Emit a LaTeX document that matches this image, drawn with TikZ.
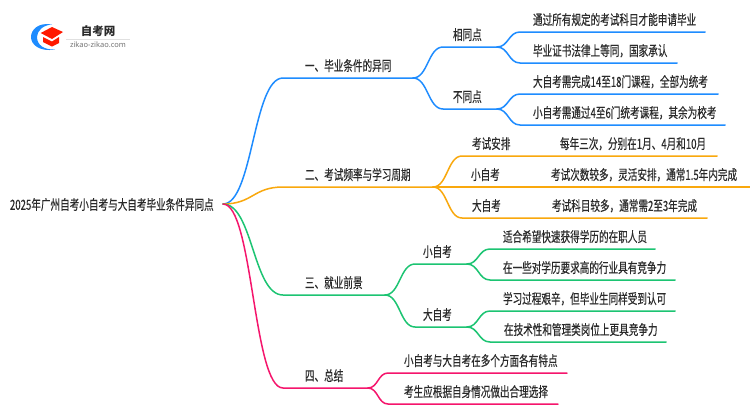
\documentclass[tikz,border=0pt]{standalone}
\usepackage{fontspec}
\setmainfont{Noto Sans}
\newfontfamily\cjk[FakeBold=0.35]{Noto Sans CJK SC}
\newfontfamily\cjkbold{Noto Sans CJK SC}
\definecolor{cblue}{HTML}{1E8CFF}
\definecolor{corange}{HTML}{F9A80D}
\definecolor{cgreen}{HTML}{1CC472}
\definecolor{cpink}{HTML}{F5156C}
\definecolor{ctext}{HTML}{2A2A2A}
\tikzset{
  lab/.style={anchor=south west,inner xsep=0pt,inner ysep=3.1pt,outer sep=0pt,align=left,
    yscale=1.45,transform shape,
    text=ctext,font=\cjk\fontsize{9.6}{11}\selectfont,text height=7pt,text depth=1.8pt},
  wire/.style={line width=1.5pt,line cap=round},
}
% S-shaped link with horizontal tangents, then the underline of the target node
\newcommand{\lnk}[3]{%
  \draw[wire,#1] (#2) .. controls ($(#2)!0.5!(#2 -| #3.south west)$) and ($(#3.south west)!0.5!(#3.south west -| #2)$) .. (#3.south west) -- (#3.south east);}
\usetikzlibrary{calc}
\begin{document}
\begin{tikzpicture}[x=1pt,y=-1pt]
\useasboundingbox[fill=white] (0,0) rectangle (750,410);
% logo
\fill[cblue] (52,24.5) .. controls (38,22) and (31,30) .. (31,37) .. controls (31,45) and (40,52) .. (55,49.5) .. controls (44,50) and (37,45) .. (37,37) .. controls (37,31) and (43,25) .. (52,24.5) -- cycle;
\fill[red!80!orange] (40.7,33) -- (52,27) -- (63,32) -- (52,39) -- cycle;
\fill[red!80!orange] (43,37) -- (52,41.5) -- (59,37) -- (59,43) -- (52,46.5) -- (43,42) -- cycle;
\node (logoname) at (98,31) {\cjkbold\bfseries\fontsize{11.5}{13}\selectfont\textcolor{ctext}{自考网}};
\node (logourl) at (98,45) {\fontsize{7.5}{9}\selectfont\textcolor{black!55}{zikao-zikao.com}};
\draw[black!12,line width=.6pt] (66,39) -- (130,39);
% root
\node[lab,anchor=west,inner ysep=0pt] (root) at (10,206) {2025年广州自考小自考与大自考毕业条件异同点};
\coordinate (r) at (223,204);
% branch 1
\node[lab,text width=130pt] (a) at (283,78) {\hspace*{22pt}一、毕业条件的异同};
\node[lab,text width=54pt] (a1) at (443,47) {\hspace*{10pt}相同点};
\node[lab,text width=185pt] (a11) at (520,32) {\hspace*{13pt}通过所有规定的考试科目才能申请毕业};
\node[lab,text width=157pt] (a12) at (520,63) {\hspace*{13pt}毕业证书法律上等同，国家承认};
\node[lab,text width=54pt] (a2) at (443,109) {\hspace*{10pt}不同点};
\node[lab,text width=198pt] (a21) at (520,94) {\hspace*{13pt}大自考需完成14至18门课程，全部为统考};
\node[lab,text width=205pt] (a22) at (520,125) {\hspace*{13pt}小自考需通过4至6门统考课程，其余为校考};
\lnk{cblue}{r}{a}
\lnk{cblue}{a.south east}{a1}
\lnk{cblue}{a.south east}{a2}
\lnk{cblue}{a1.south east}{a11}
\lnk{cblue}{a1.south east}{a12}
\lnk{cblue}{a2.south east}{a21}
\lnk{cblue}{a2.south east}{a22}
% branch 2
\node[lab,text width=150pt] (b) at (283,187) {\hspace*{22pt}二、考试频率与学习周期};
\node[lab,text width=255pt] (b1) at (462,156) {\hspace*{10pt}\makebox[88pt][l]{考试安排}每年三次，分别在1月、4月和10月};
\node[lab,text width=288pt] (b2) at (462,187) {\hspace*{9pt}\makebox[80pt][l]{小自考}考试次数较多，灵活安排，通常1.5年内完成};
\node[lab,text width=245pt] (b3) at (462,218) {\hspace*{10pt}\makebox[80pt][l]{大自考}考试科目较多，通常需2至3年完成};
\lnk{corange}{r}{b}
\lnk{corange}{b.south east}{b1}
\lnk{corange}{b.south east}{b2}
\lnk{corange}{b.south east}{b3}
% branch 3
\node[lab,text width=102pt] (c) at (283,295) {\hspace*{22pt}三、就业前景};
\node[lab,text width=52pt] (c1) at (415,264) {\hspace*{8pt}小自考};
\node[lab,text width=165pt] (c11) at (490,249) {\hspace*{13pt}适合希望快速获得学历的在职人员};
\node[lab,text width=185pt] (c12) at (490,280) {\hspace*{13pt}在一些对学历要求高的行业具有竞争力};
\node[lab,text width=52pt] (c2) at (415,327) {\hspace*{8pt}大自考};
\node[lab,text width=185pt] (c21) at (490,311) {\hspace*{13pt}学习过程艰辛，但毕业生同样受到认可};
\node[lab,text width=176pt] (c22) at (490,342) {\hspace*{14pt}在技术性和管理类岗位上更具竞争力};
\lnk{cgreen}{r}{c}
\lnk{cgreen}{c.south east}{c1}
\lnk{cgreen}{c.south east}{c2}
\lnk{cgreen}{c1.south east}{c11}
\lnk{cgreen}{c1.south east}{c12}
\lnk{cgreen}{c2.south east}{c21}
\lnk{cgreen}{c2.south east}{c22}
% branch 4
\node[lab,text width=85pt] (d) at (283,388) {\hspace*{22pt}四、总结};
\node[lab,text width=179pt] (d1) at (388,373) {\hspace*{16pt}小自考与大自考在多个方面各有特点};
\node[lab,text width=170pt] (d2) at (388,404) {\hspace*{16pt}考生应根据自身情况做出合理选择};
\lnk{cpink}{r}{d}
\lnk{cpink}{d.south east}{d1}
\lnk{cpink}{d.south east}{d2}
\end{tikzpicture}
\end{document}
